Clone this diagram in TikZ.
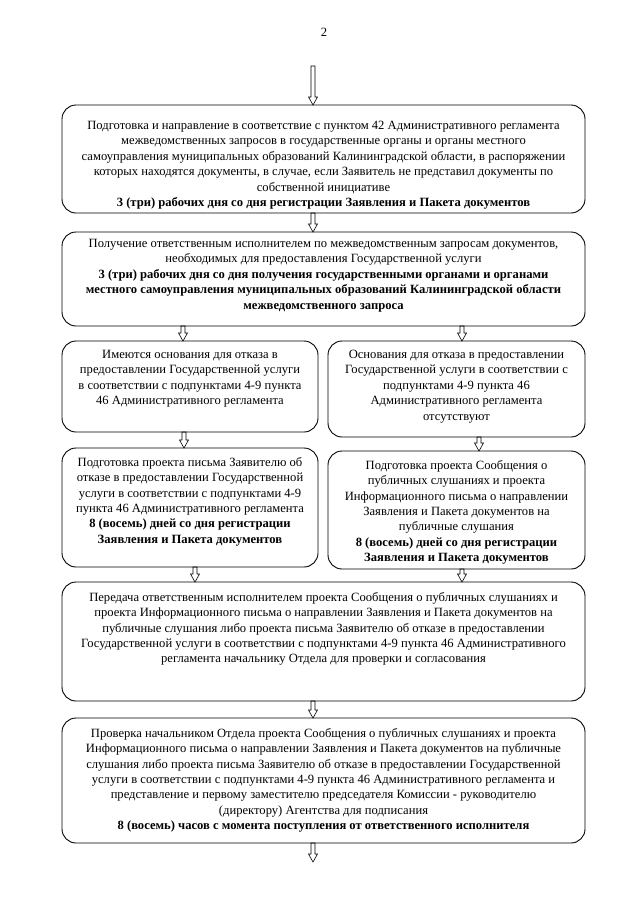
\documentclass[tikz,border=0pt]{standalone}
\usepackage{fontspec}
\setmainfont{Liberation Serif}
\usetikzlibrary{calc}
\newcommand\harrow[2]{%
  \draw[arrline] let \p1=#1, \p2=#2 in
    ({\x1-2pt},\y1) -- ({\x1-2pt},{\y2+8pt}) -- ({\x1-4.5pt},{\y2+8pt}) -- (\x1,\y2)
    -- ({\x1+4.5pt},{\y2+8pt}) -- ({\x1+2pt},{\y2+8pt}) -- ({\x1+2pt},\y1) -- cycle;}
\begin{document}
\begin{tikzpicture}[x=1pt,y=-1pt,
  box/.style={draw, rounded corners=14pt, line width=0.9pt, inner sep=0pt, outer sep=0pt},
  txt/.style={anchor=north, align=center, inner sep=0pt, font=\fontsize{12.6}{15.4}\selectfont},
  arrline/.style={line width=0.6pt}]
\useasboundingbox (0,0) rectangle (640,905);
\node[font=\fontsize{12.6}{15}\selectfont] (pg) at (324,32) {2};
\coordinate (top) at (313,66);
\coordinate (bot) at (313,862);
\node[box, minimum width=523, minimum height=108] (b1) at (323.5,159) {};
\node[box, minimum width=523, minimum height=94] (b2) at (323.5,279) {};
\node[box, minimum width=256, minimum height=91] (b3l) at (190,386.5) {};
\node[box, minimum width=257, minimum height=96] (b3r) at (456.5,389) {};
\node[box, minimum width=256, minimum height=119] (b4l) at (190,507.5) {};
\node[box, minimum width=257, minimum height=118] (b4r) at (456.5,510) {};
\node[box, minimum width=523, minimum height=119] (b5) at (323.5,641.5) {};
\node[box, minimum width=523, minimum height=125] (b6) at (323.5,780.5) {};

\node[txt] (t1) at ([yshift=-16pt]b1.north) {Подготовка и направление в соответствие с пунктом 42 Административного регламента\\
межведомственных запросов в государственные органы и органы местного\\
самоуправления муниципальных образований Калининградской области, в распоряжении\\
которых находятся документы, в случае, если Заявитель не представил документы по\\
собственной инициативе\\
\textbf{3 (три) рабочих дня со дня регистрации Заявления и Пакета документов}};

\node[txt] (t2) at ([yshift=-7pt]b2.north) {Получение ответственным исполнителем по межведомственным запросам документов,\\
необходимых для предоставления Государственной услуги\\
\textbf{3 (три) рабочих дня со дня получения государственными органами и органами}\\
\textbf{местного самоуправления муниципальных образований Калининградской области}\\
\textbf{межведомственного запроса}};

\node[txt] (t3l) at ([yshift=-9pt]b3l.north) {Имеются основания для отказа в\\
предоставлении Государственной услуги\\
в соответствии с подпунктами 4-9 пункта\\
46 Административного регламента};

\node[txt] (t3r) at ([yshift=-9pt]b3r.north) {Основания для отказа в предоставлении\\
Государственной услуги в соответствии с\\
подпунктами 4-9 пункта 46\\
Административного регламента\\
отсутствуют};

\node[txt] (t4l) at ([yshift=-9pt]b4l.north) {Подготовка проекта письма Заявителю об\\
отказе в предоставлении Государственной\\
услуги в соответствии с подпунктами 4-9\\
пункта 46 Административного регламента\\
\textbf{8 (восемь) дней со дня регистрации}\\
\textbf{Заявления и Пакета документов}};

\node[txt] (t4r) at ([yshift=-9pt]b4r.north) {Подготовка проекта Сообщения о\\
публичных слушаниях и проекта\\
Информационного письма о направлении\\
Заявления и Пакета документов на\\
публичные слушания\\
\textbf{8 (восемь) дней со дня регистрации}\\
\textbf{Заявления и Пакета документов}};

\node[txt] (t5) at ([yshift=-10pt]b5.north) {Передача ответственным исполнителем проекта Сообщения о публичных слушаниях и\\
проекта Информационного письма о направлении Заявления и Пакета документов на\\
публичные слушания либо проекта письма Заявителю об отказе в предоставлении\\
Государственной услуги в соответствии с подпунктами 4-9 пункта 46 Административного\\
регламента начальнику Отдела для проверки и согласования};

\node[txt] (t6) at ([yshift=-10pt]b6.north) {Проверка начальником Отдела проекта Сообщения о публичных слушаниях и проекта\\
Информационного письма о направлении Заявления и Пакета документов на публичные\\
слушания либо проекта письма Заявителю об отказе в предоставлении Государственной\\
услуги в соответствии с подпунктами 4-9 пункта 46 Административного регламента и\\
представление и первому заместителю председателя Комиссии - руководителю\\
(директору) Агентства для подписания\\
\textbf{8 (восемь) часов с момента поступления от ответственного исполнителя}};

\harrow{(top)}{(top |- b1.north)}
\harrow{(b1.south -| top)}{(b2.north -| top)}
\harrow{([xshift=-7pt]b3l.north |- b2.south)}{([xshift=-7pt]b3l.north)}
\harrow{([xshift=5.5pt]b3r.north |- b2.south)}{([xshift=5.5pt]b3r.north)}
\harrow{([xshift=-6pt]b3l.south)}{([xshift=-6pt]b3l.south |- b4l.north)}
\harrow{([xshift=22.5pt]b3r.south)}{([xshift=22.5pt]b3r.south |- b4r.north)}
\harrow{([xshift=5pt]b4l.south)}{([xshift=5pt]b4l.south |- b5.north)}
\harrow{([xshift=5.5pt]b4r.south)}{([xshift=5.5pt]b4r.south |- b5.north)}
\harrow{(b5.south -| top)}{(b6.north -| top)}
\harrow{(b6.south -| top)}{(bot)}
\end{tikzpicture}
\end{document}
